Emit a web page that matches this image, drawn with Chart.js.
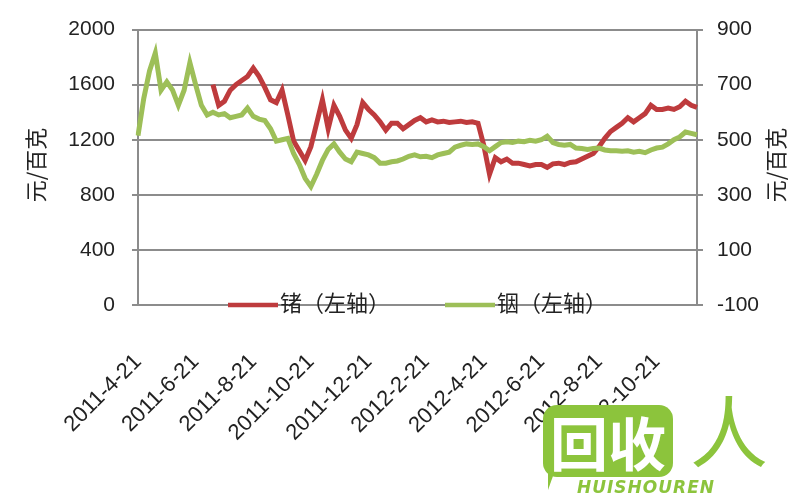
<!DOCTYPE html>
<html>
<head>
<meta charset="utf-8">
<script src="https://cdn.jsdelivr.net/npm/chart.js@4.4.1/dist/chart.umd.min.js"></script>
<style>
  html, body { margin: 0; padding: 0; background: #fff; }
  #wrap { position: relative; width: 800px; height: 500px; }
  #logoBox {
    position: absolute; left: 543px; top: 405px; width: 130px; height: 72px;
    background: #8cc43c; border-radius: 14px;
    color: #fff; font: bold 58px "Noto Sans CJK SC"; line-height: 72px; text-align: center;
  }
  #logoTail {
    position: absolute; left: 548px; top: 462px; width: 0; height: 0;
    border-left: 10px solid #8cc43c; border-top: 0 solid transparent; border-bottom: 28px solid transparent;
  }
  #logoRen { position: absolute; left: 690px; top: 388px; font: 78px "Noto Sans CJK SC"; color: #8cc43c; line-height: 80px; }
  #logoText {
    position: absolute; left: 577px; top: 477px; font: italic bold 17px "DejaVu Sans";
    color: #8cc43c; letter-spacing: 1px;
  }
</style>
</head>
<body>
<div id="wrap">
  <canvas id="priceChart" width="800" height="500"></canvas>
  <div id="logoTail"></div>
  <div id="logoBox">回收</div>
  <div id="logoRen">人</div>
  <div id="logoText">HUISHOUREN</div>
</div>
<script>
  // x-axis tick labels, one every 10 points
  const tickLabels = ["2011-4-21", "2011-6-21", "2011-8-21", "2011-10-21", "2011-12-21",
    "2012-2-21", "2012-4-21", "2012-6-21", "2012-8-21", "2012-10-21"];
  const pointsPerTick = 10;

  // 锗, left axis (元/百克)
  const germanium = [null, null, null, null, null, null, null, null, null, null,
    null, null, null, 1600, 1450, 1480, 1560, 1600, 1630, 1660,
    1720, 1660, 1580, 1490, 1470, 1560, 1380, 1190, 1120, 1050,
    1150, 1320, 1490, 1280, 1450, 1370, 1270, 1210, 1310, 1470,
    1420, 1380, 1330, 1270, 1320, 1320, 1280, 1310, 1340, 1360,
    1330, 1345, 1330, 1335, 1325, 1330, 1335, 1325, 1330, 1320,
    1160, 950, 1070, 1040, 1060, 1030, 1030, 1020, 1010, 1020,
    1020, 1000, 1025, 1030, 1020, 1035, 1040, 1060, 1080, 1100,
    1150, 1210, 1260, 1290, 1320, 1360, 1330, 1360, 1390, 1450,
    1420, 1420, 1430, 1420, 1440, 1480, 1450, 1435];

  // 铟, right axis values
  const indium = [515, 650, 750, 815, 680, 710, 680, 625, 680, 780,
    700, 625, 590, 600, 590, 595, 580, 585, 590, 615,
    585, 575, 570, 540, 495, 500, 505, 450, 410, 360,
    330, 375, 425, 465, 485, 455, 430, 420, 455, 450,
    445, 435, 415, 415, 420, 423, 430, 440, 445, 438,
    440, 435, 445, 450, 455, 473, 480, 485, 483, 485,
    475, 460, 475, 490, 493, 490, 495, 493, 498, 495,
    500, 513, 490, 483, 480, 483, 470, 468, 465, 468,
    470, 463, 460, 460, 458, 460, 455, 458, 453, 463,
    470, 473, 485, 500, 510, 528, 523, 518];

  const leftTitle = "元/百克";
  const rightTitle = "元/百克";
  const seriesNames = ["锗（左轴）", "铟（左轴）"];
  const seriesColors = ["#be3b3d", "#9dbf58"];

  const categories = germanium.map((v, i) =>
    i % pointsPerTick === 0 && tickLabels[i / pointsPerTick] ? tickLabels[i / pointsPerTick] : "");

  const gridGray = "#8c8c8c";
  const tickFont = { family: "Liberation Sans", size: 21 };
  const plainNumber = val => String(val);

  // axis titles read bottom-to-top on both sides, and legend sits on the bottom axis
  const extras = {
    id: "extras",
    afterDraw(chart) {
      const ctx = chart.ctx;
      const area = chart.chartArea;
      ctx.save();
      ctx.fillStyle = "#222";
      ctx.font = '22px "Noto Sans CJK SC"';
      ctx.textAlign = "center";
      ctx.textBaseline = "middle";
      [[36, leftTitle], [776, rightTitle]].forEach(([x, t]) => {
        ctx.save();
        ctx.translate(x, 165);
        ctx.rotate(-Math.PI / 2);
        ctx.fillText(t, 0, 0);
        ctx.restore();
      });
      const y = area.bottom;
      const items = [{ x: 228 }, { x: 445 }];
      items.forEach((it, i) => {
        ctx.strokeStyle = seriesColors[i];
        ctx.lineWidth = 4.5;
        ctx.beginPath();
        ctx.moveTo(it.x, y);
        ctx.lineTo(it.x + 50, y);
        ctx.stroke();
        ctx.textAlign = "left";
        ctx.fillText(seriesNames[i], it.x + 52, y - 2);
      });
      ctx.restore();
    }
  };

  new Chart(document.getElementById("priceChart"), {
    type: "line",
    data: {
      labels: categories,
      datasets: [{
        label: seriesNames[0],
        data: germanium,
        yAxisID: "y",
        borderColor: seriesColors[0],
        borderWidth: 5,
        pointRadius: 0,
        tension: 0,
        order: 1
      }, {
        label: seriesNames[1],
        data: indium,
        yAxisID: "y1",
        borderColor: seriesColors[1],
        borderWidth: 5,
        pointRadius: 0,
        tension: 0,
        order: 0
      }]
    },
    options: {
      responsive: false,
      animation: false,
      layout: { padding: { top: 22, left: 0, right: 0, bottom: 0 } },
      plugins: { legend: { display: false }, tooltip: { enabled: false } },
      scales: {
        x: {
          grid: { display: false },
          border: { display: true, color: gridGray, width: 2 },
          ticks: {
            autoSkip: false,
            minRotation: 45,
            maxRotation: 45,
            padding: 36,
            color: "#222",
            font: { family: "Liberation Sans", size: 22 }
          },
          afterFit(axis) { axis.height = 195; }
        },
        y: {
          position: "left",
          min: 0,
          max: 2000,
          ticks: { stepSize: 400, padding: 17, color: "#222", font: tickFont, callback: plainNumber },
          grid: { color: gridGray, lineWidth: 2, tickLength: 6 },
          border: { color: gridGray, width: 2 },
          afterFit(axis) { axis.width = 138; }
        },
        y1: {
          position: "right",
          min: -100,
          max: 900,
          ticks: { stepSize: 200, padding: 14, color: "#222", font: tickFont, callback: plainNumber },
          grid: { drawOnChartArea: false, color: gridGray, lineWidth: 2, tickLength: 6 },
          border: { color: gridGray, width: 2 },
          afterFit(axis) { axis.width = 103; }
        }
      }
    },
    plugins: [extras]
  });
</script>
</body>
</html>
